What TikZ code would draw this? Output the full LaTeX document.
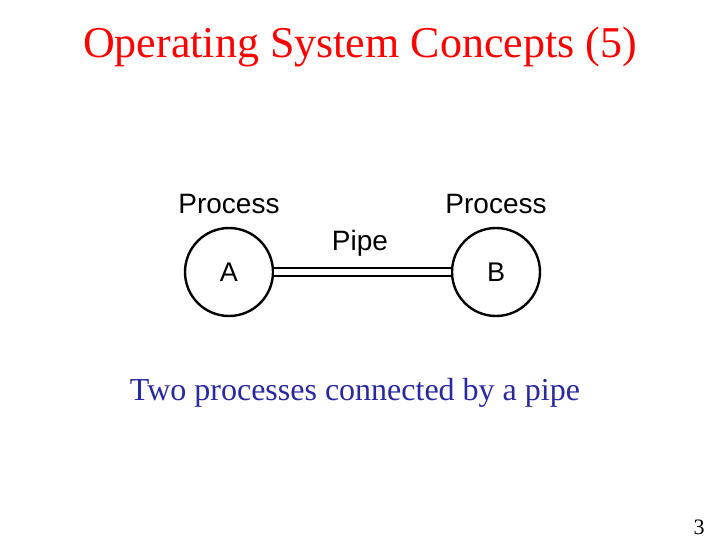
\documentclass[tikz,border=0pt]{standalone}
\usepackage{fontspec}
\setmainfont{Liberation Serif}
\newfontfamily\arial{Liberation Sans}
\begin{document}
\begin{tikzpicture}[x=1pt,y=-1pt,
  lbl/.style={font=\arial\fontsize{28}{30}\selectfont,inner sep=0pt},
  proc/.style={circle,draw,line width=2.4pt,minimum size=88pt,inner sep=0pt,font=\arial\fontsize{27}{30}\selectfont}]
\useasboundingbox[fill=white] (0,0) rectangle (720,540);
\node[text=red,font=\fontsize{44}{48}\selectfont] (title) at (360,47) {Operating System Concepts (5)};
\node[proc] (A) at (229,272) {A};
\node[proc] (B) at (496,272) {B};
\node[lbl] (pa) at (229,204) {Process};
\node[lbl] (pb) at (496,204) {Process};
\node[lbl] (pipe) at (360,243) {Pipe};
\draw[double=white,double distance=6pt,line width=1.8pt] (A) -- (B);
\node[text={rgb,255:red,40;green,40;blue,160},font=\fontsize{32}{34}\selectfont] (cap) at (355,393) {Two processes connected by a pipe};
\node[font=\fontsize{22}{24}\selectfont,inner sep=0pt] (num) at (699,527) {3};
\end{tikzpicture}
\end{document}
